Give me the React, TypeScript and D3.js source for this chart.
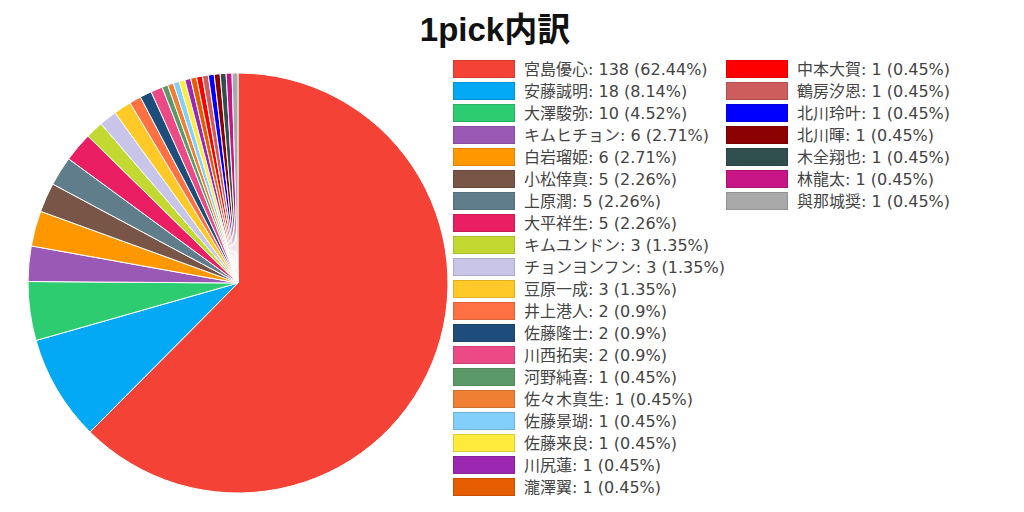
import React, { useEffect, useRef } from "react";
import * as d3 from "d3";

const names = [
  "宮島優心", "安藤誠明", "大澤駿弥", "キムヒチョン", "白岩瑠姫", "小松倖真", "上原潤",
  "大平祥生", "キムユンドン", "チョンヨンフン", "豆原一成", "井上港人", "佐藤隆士", "川西拓実",
  "河野純喜", "佐々木真生", "佐藤景瑚", "佐藤来良", "川尻蓮", "瀧澤翼", "中本大賀",
  "鶴房汐恩", "北川玲叶", "北川暉", "木全翔也", "林龍太", "與那城奨",
];
const counts = [138, 18, 10, 6, 6, 5, 5, 5, 3, 3, 3, 2, 2, 2, 1, 1, 1, 1, 1, 1, 1, 1, 1, 1, 1, 1, 1];
const colors = [
  "#F44336", "#03A9F4", "#2ECC71", "#9B59B6", "#FF9800", "#795548", "#607D8B",
  "#E91E63", "#C4D832", "#C8C5E8", "#FFCA28", "#FF7043", "#1E4D7B", "#EC4A86",
  "#5B9A68", "#EF8033", "#81CFFA", "#FFEB3B", "#9C27B0", "#E65C00", "#FF0000",
  "#CD5C5C", "#0000FF", "#8B0000", "#2F4F4F", "#C71585", "#A9A9A9",
];

const font = "'DejaVu Sans', 'Noto Sans CJK JP', sans-serif";
const titleFont = "'Liberation Sans', 'Noto Sans CJK JP', sans-serif";

const App: React.FC = () => {
  const svgRef = useRef<SVGSVGElement | null>(null);

  useEffect(() => {
    if (!svgRef.current) return;
    const svg = d3.select(svgRef.current);
    svg.selectAll("*").remove();

    const width = 1024;
    const height = 512;
    svg.attr("width", width).attr("height", height);

    const total = d3.sum(counts);
    const data = names.map((n, i) => ({ name: n, value: counts[i], color: colors[i] }));

    svg.append("text")
      .attr("x", 495)
      .attr("y", 41)
      .attr("text-anchor", "middle")
      .attr("font-family", titleFont)
      .attr("font-weight", "bold")
      .attr("font-size", "33px")
      .attr("fill", "#111")
      .text("1pick内訳");

    const cx = 238;
    const cy = 283;
    const radius = 210;

    const pie = d3.pie<{ name: string; value: number; color: string }>()
      .sort(null)
      .value((d) => d.value);
    const arc = d3.arc<d3.PieArcDatum<{ name: string; value: number; color: string }>>()
      .innerRadius(0)
      .outerRadius(radius);

    const g = svg.append("g").attr("transform", `translate(${cx},${cy})`);
    g.selectAll("path")
      .data(pie(data))
      .enter()
      .append("path")
      .attr("d", arc)
      .attr("fill", (d) => d.data.color)
      .attr("stroke", "#fff")
      .attr("stroke-width", 1);

    // legend, two columns
    const perCol = 20;
    const rowY = d3.scaleLinear().domain([0, perCol - 1]).range([69, 69 + 22 * (perCol - 1)]);
    const colX = [453, 726];

    const legend = svg.append("g");
    const items = legend.selectAll("g")
      .data(data)
      .enter()
      .append("g")
      .attr("transform", (_, i) =>
        `translate(${colX[Math.floor(i / perCol)]},${rowY(i % perCol)})`);

    items.append("rect")
      .attr("x", 0.5)
      .attr("y", -8.5)
      .attr("width", 61)
      .attr("height", 17)
      .attr("fill", (d) => d.color)
      .attr("stroke", (d) => d3.color(d.color)!.darker(0.4).toString())
      .attr("stroke-width", 1);

    // percentages are truncated, not rounded (3/221 -> 1.35%)
    items.append("text")
      .attr("x", 71)
      .attr("y", 1)
      .attr("dominant-baseline", "middle")
      .attr("font-family", font)
      .attr("font-size", "16px")
      .attr("fill", "#444")
      .text((d) => `${d.name}: ${d.value} (${Math.floor((d.value / total) * 10000) / 100}%)`);
  }, []);

  return <svg ref={svgRef} style={{ position: "absolute", left: 0, top: 0 }}></svg>;
};

export default App;
